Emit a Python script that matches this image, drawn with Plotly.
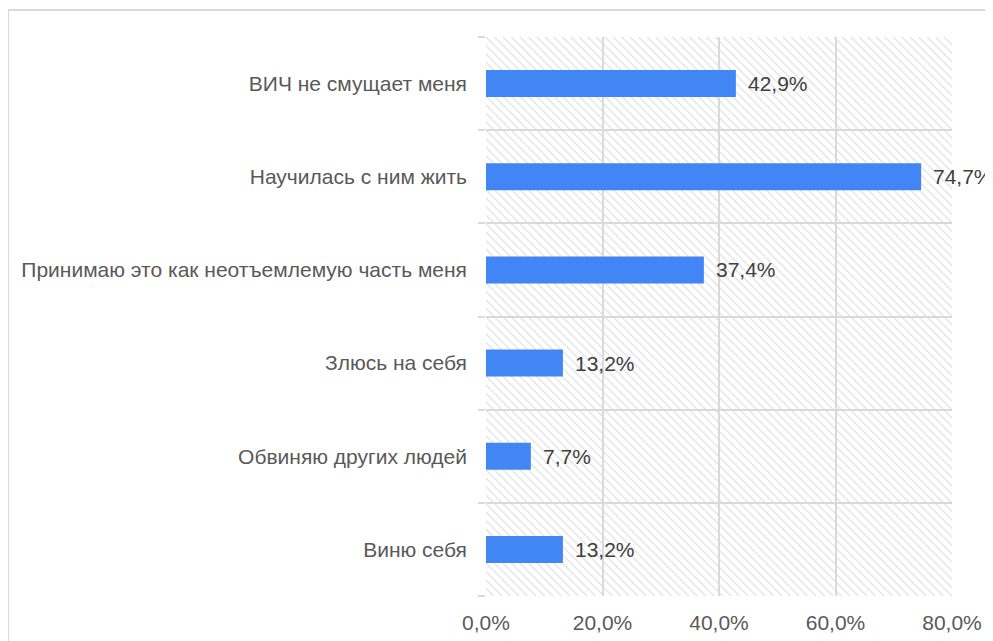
import plotly.graph_objects as go

categories = ["ВИЧ не смущает меня", "Научилась с ним жить",
              "Принимаю это как неотъемлемую часть меня", "Злюсь на себя",
              "Обвиняю других людей", "Виню себя"]
values = [42.9, 74.7, 37.4, 13.2, 7.7, 13.2]
x_ticks = [0, 20, 40, 60, 80]
x_tick_labels = ["0,0%", "20,0%", "40,0%", "60,0%", "80,0%"]

positions = list(range(len(categories)))
n = len(categories)
FONT = "Liberation Sans, Arial, sans-serif"

fig = go.Figure()
# hatched plot background
fig.add_trace(go.Bar(
    x=[x_ticks[-1]], y=[(n - 1) / 2], base=[0], width=[n], orientation="h",
    marker=dict(color="rgba(0,0,0,0)", line=dict(width=0),
                pattern=dict(shape="\\", fillmode="replace", fgcolor="#d9d9d9",
                             bgcolor="rgba(0,0,0,0)", size=6, solidity=0.17)),
    hoverinfo="skip", showlegend=False))
fig.add_trace(go.Bar(
    x=values, y=positions, orientation="h", width=0.29,
    marker=dict(color="#4285F4", line=dict(width=0)), showlegend=False))

for p, v in zip(positions, values):
    fig.add_annotation(x=v, y=p, text=f"{v:.1f}%".replace(".", ","),
                       showarrow=False, xanchor="left", xshift=10, yshift=0,
                       font=dict(size=21, color="#404040", family=FONT))

OFF = 8  # page body margin
L, R, T, B = 486 - OFF, 993 - 952 + OFF, 37 - OFF, 641 - 596 + OFF
W, H = 993 - L - R, 641 - T - B
fig.add_shape(type="rect", xref="paper", yref="paper",
              x0=(8 - OFF - L) / W, x1=2.0, y0=-1.0,
              y1=(641 - B - (10 - OFF)) / H,
              line=dict(color="#d9d9d9", width=2), fillcolor="rgba(0,0,0,0)",
              layer="below")

fig.update_layout(
    width=993, height=641, margin=dict(l=L, r=R, t=T, b=B),
    paper_bgcolor="white", plot_bgcolor="white", barmode="overlay",
    font=dict(family=FONT, size=21, color="#595959"),
    xaxis=dict(range=[x_ticks[0], x_ticks[-1]], tickvals=x_ticks,
               ticktext=x_tick_labels, showgrid=True,
               gridcolor="#d9d9d9", gridwidth=2, zeroline=False,
               showline=False, ticks="", ticklabelstandoff=12,
               tickfont=dict(size=21, color="#595959")),
    yaxis=dict(range=[n - 0.5, -0.5], tickvals=positions, ticktext=categories,
               showgrid=False, zeroline=False, showline=False, ticks="",
               ticklabelstandoff=18,
               minor=dict(tickvals=[i - 0.5 for i in range(n + 1)], showgrid=True,
                          gridcolor="#d9d9d9", gridwidth=2, ticks="outside",
                          ticklen=7, tickcolor="#d9d9d9", tickwidth=2),
               tickfont=dict(size=21, color="#595959")),
)

fig.write_html("out.html")
